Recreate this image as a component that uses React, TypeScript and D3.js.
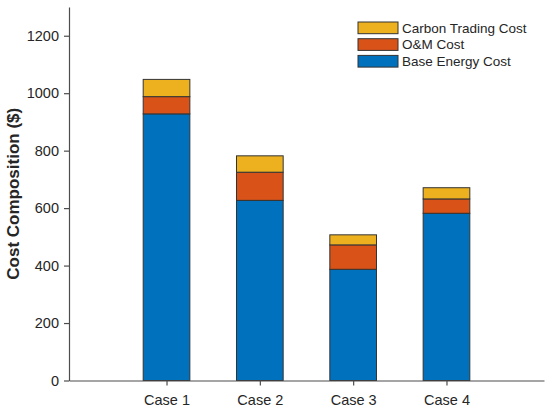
import { useEffect, useRef } from "react";
import * as d3 from "d3";

const cases = ["Case 1", "Case 2", "Case 3", "Case 4"];
const baseEnergy = [928, 627, 387, 582];
const omCost = [60, 98, 85, 50];
const carbonCost = [60, 57, 35, 39];
const yTicks = [0, 200, 400, 600, 800, 1000, 1200];

const seriesNames = ["Base Energy Cost", "O&M Cost", "Carbon Trading Cost"];
const colors = ["#0072BD", "#D95319", "#EDB120"];

export default function App() {
  const svgRef = useRef<SVGSVGElement>(null);

  useEffect(() => {
    if (!svgRef.current) return;
    const svg = d3.select(svgRef.current);
    svg.selectAll("*").remove();

    const left = 69;
    const right = 544;
    const top = 7;
    const bottom = 380.5;
    const font = "Liberation Sans, Arial, sans-serif";
    const axisColor = "#4d4d4d";
    const textColor = "#262626";

    const x = d3.scaleLinear().domain([-0.045, 5.045]).range([left, right]);
    const y = d3.scaleLinear().domain([0, 1300]).range([bottom, top]);

    const rows = cases.map((c, i) => ({
      name: c,
      idx: i + 1,
      base: baseEnergy[i],
      om: omCost[i],
      carbon: carbonCost[i],
    }));
    const stack = d3.stack<any>().keys(["base", "om", "carbon"]);
    const layers = stack(rows);
    const barW = x(0.5) - x(0);

    // Bars
    layers.forEach((layer, li) => {
      svg
        .append("g")
        .selectAll("rect")
        .data(layer)
        .join("rect")
        .attr("x", (d) => x(d.data.idx) - barW / 2)
        .attr("y", (d) => y(d[1]))
        .attr("width", barW)
        .attr("height", (d) => y(d[0]) - y(d[1]))
        .attr("fill", colors[li])
        .attr("stroke", "#333333")
        .attr("stroke-width", 1);
    });

    // Y axis
    const yAxis = svg
      .append("g")
      .attr("transform", `translate(${left},0)`)
      .call(
        d3
          .axisLeft(y)
          .tickValues(yTicks)
          .tickFormat(d3.format("d"))
          .tickSize(5)
          .tickSizeOuter(0)
          .tickPadding(5)
      );
    yAxis.select(".domain").attr("stroke", axisColor).attr("stroke-width", 1.2);
    yAxis.selectAll("line").attr("stroke", axisColor).attr("stroke-width", 1.2);
    yAxis
      .selectAll("text")
      .attr("fill", textColor)
      .attr("font-size", "14.5px")
      .attr("font-family", font);

    // X axis
    const xAxis = svg
      .append("g")
      .attr("transform", `translate(0,${bottom})`)
      .call(
        d3
          .axisBottom(x)
          .tickValues([1, 2, 3, 4])
          .tickFormat((d) => cases[(d as number) - 1])
          .tickSize(5)
          .tickSizeOuter(0)
          .tickPadding(9)
      );
    xAxis.select(".domain").attr("stroke", axisColor).attr("stroke-width", 1.2);
    xAxis.selectAll("line").attr("stroke", axisColor).attr("stroke-width", 1.2);
    xAxis
      .selectAll("text")
      .attr("fill", textColor)
      .attr("font-size", "14.5px")
      .attr("font-family", font);

    // Y label
    svg
      .append("text")
      .attr("transform", `translate(19,${(top + bottom) / 2}) rotate(-90)`)
      .attr("text-anchor", "middle")
      .attr("font-size", "17px")
      .attr("font-weight", "bold")
      .attr("font-family", font)
      .attr("fill", textColor)
      .text("Cost Composition ($)");

    // Legend (top entry is the top layer)
    const legendOrder = [2, 1, 0];
    const lg = svg.append("g").attr("transform", "translate(358,22)");
    legendOrder.forEach((si, row) => {
      const g = lg.append("g").attr("transform", `translate(0,${row * 16.7})`);
      g.append("rect")
        .attr("width", 40)
        .attr("height", 11.7)
        .attr("fill", colors[si])
        .attr("stroke", "#333333")
        .attr("stroke-width", 1);
      g.append("text")
        .attr("x", 44)
        .attr("y", 6)
        .attr("dy", "0.35em")
        .attr("font-size", "13.5px")
        .attr("font-family", font)
        .attr("fill", textColor)
        .text(seriesNames[si]);
    });
  }, []);

  return (
    <div style={{ position: "fixed", left: 0, top: 0, background: "#fff" }}>
      <svg ref={svgRef} width={550} height={412} style={{ display: "block" }} />
    </div>
  );
}
